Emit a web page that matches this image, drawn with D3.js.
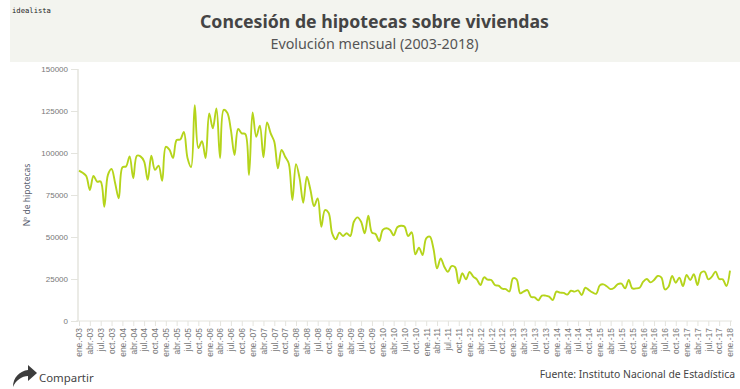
<!DOCTYPE html>
<html><head><meta charset="utf-8">
<script src="https://cdnjs.cloudflare.com/ajax/libs/d3/7.8.5/d3.min.js"></script>
<style>
html,body{margin:0;padding:0;background:#fff;overflow:hidden}
svg{display:block;font-family:"Noto Sans","Open Sans",sans-serif}
.axis text{fill:#777}
</style></head><body><svg id="c" width="740" height="389"></svg>
<script>
const titleText = "Concesión de hipotecas sobre viviendas";
const subtitleText = "Evolución mensual (2003-2018)";
const yAxisTitle = "Nº de hipotecas";
const sourceText = "Fuente: Instituto Nacional de Estadística";
const shareText = "Compartir";
const brandText = "idealista";
const yTicks = [0,25000,50000,75000,100000,125000,150000];
const monthNames = ["ene","feb","mar","abr","may","jun","jul","ago","sep","oct","nov","dic"];
const years = ["03","04","05","06","07","08","09","10","11","12","13","14","15","16","17","18"];
const values = [
89500,88200,86300,78000,86300,83000,83000,68000,87000,90500,82000,73000,
91500,92000,98000,85000,98400,98000,95000,84000,98400,90000,92500,83500,
103700,102000,97000,107700,108000,112500,97000,91600,128500,103000,107000,97000,
123500,114700,126500,97000,125700,124000,113700,98800,114300,111700,111300,86900,
124200,109700,116300,97400,118200,111700,106700,90900,101800,97800,93800,72000,
93400,84900,70400,85900,78000,68400,73000,56100,66000,64500,52200,48600,
52600,50600,52200,50600,59100,61700,59100,52200,62700,52600,51800,47600,
54200,55200,54200,51000,55800,56700,56200,50600,52800,39700,43600,39300,
49200,50200,43200,31300,37300,32300,29300,32700,32000,22400,28400,24800,
29200,26400,24800,21400,26000,24600,24400,21400,21000,19200,19000,17600,
25400,24800,16500,17600,18400,14300,14100,12300,15100,15100,14500,12500,
17500,16900,16700,15700,18000,17500,18200,15500,19800,18400,17000,16200,
21200,21800,20500,19000,19800,22000,22200,19400,24400,19400,19400,19800,
23400,25000,23000,24400,26800,26000,18800,20400,26800,22800,25800,20800,
27400,24400,27800,21400,28800,29400,24800,26400,29400,25000,24800,20800,
30000];
const categories = values.map((_, i) => monthNames[i % 12] + ".-" + years[Math.floor(i / 12)]);
const tickLabels = categories.filter((_, i) => i % 3 === 0);

const svg = d3.select("#c");
const m = {l:79, r:730, t:69, b:321};
svg.append("rect").attr("x",10).attr("y",0).attr("width",730).attr("height",62).attr("fill","#f3f4ef");
svg.append("text").attr("x",12).attr("y",12.5).attr("font-family","DejaVu Sans Mono").attr("font-size",7.2).attr("fill","#222").text(brandText);
svg.append("text").attr("x",374.5).attr("y",28).attr("text-anchor","middle").attr("font-size",17.7).attr("font-weight",700).attr("fill","#444").text(titleText);
svg.append("text").attr("x",374.5).attr("y",49).attr("text-anchor","middle").attr("font-size",14.3).attr("fill","#555").text(subtitleText);

const x = d3.scalePoint().domain(categories).range([m.l,m.r]);
const y = d3.scaleLinear().domain([0,150000]).range([m.b,m.t]);

const gy = svg.append("g").attr("class","axis").attr("transform",`translate(${m.l-1},0)`)
  .call(d3.axisLeft(y).tickValues(yTicks).tickFormat(d=>String(d)).tickSize(7).tickPadding(3));
gy.selectAll("text").attr("font-size",8);
gy.selectAll("line").attr("stroke","#e4e4de");
gy.select(".domain").attr("stroke","#e4e4de").attr("stroke-width",1.5).attr("d",`M0,${m.t}V${m.b}`);

const gx = svg.append("g").attr("class","axis").attr("transform",`translate(0,${m.b})`)
  .call(d3.axisBottom(x).tickValues(tickLabels).tickSize(5));
gx.select(".domain").attr("stroke","#e4e4de").attr("d",`M${m.l-3},0H${m.r+2}`);
gx.selectAll("line").attr("stroke","#e4e4de");
gx.selectAll("text").attr("font-size",8.5).attr("text-anchor","end")
  .attr("transform","rotate(-90)").attr("x",-7).attr("y",0).attr("dy","0.33em");

svg.append("text").attr("transform","translate(30,195) rotate(-90)").attr("text-anchor","middle")
  .attr("font-size",8.5).attr("fill","#5a6070").text(yAxisTitle);

const line = d3.line().x((d,i)=>x(categories[i])).y(d=>y(d)).curve(d3.curveCatmullRom.alpha(0.5));
svg.append("path").datum(values).attr("d",line).attr("fill","none").attr("stroke","#b5d41b").attr("stroke-width",1.9).attr("stroke-linejoin","round");

svg.append("path").attr("d","M13,387 C13,377 20,371 28,370 L28,365 L37,373 L28,381 L28,376 C22,376 16,380 13,387 Z")
  .attr("fill","#3c3c3c");
svg.append("text").attr("x",39).attr("y",382).attr("font-size",11.4).attr("fill","#444").text(shareText);
svg.append("text").attr("x",735).attr("y",378).attr("text-anchor","end").attr("font-size",10.4).attr("fill","#444").text(sourceText);
</script></body></html>
